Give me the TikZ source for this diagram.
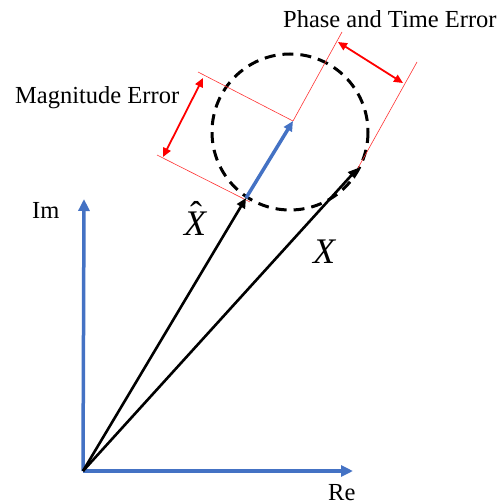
\documentclass[tikz,border=0pt]{standalone}
\usepackage{fontspec}
\setmainfont{Liberation Serif}
\usetikzlibrary{arrows.meta}
\definecolor{axisblue}{HTML}{4472C4}
\tikzset{
  axis/.style={draw=axisblue, line width=3.5pt, -{Triangle[length=12pt,width=11pt]}},
  vec/.style={draw=black, line width=2.6pt, -{Triangle[length=10pt,width=9pt]}},
  errvec/.style={draw=axisblue, line width=3.5pt, -{Triangle[length=10pt,width=9pt]}},
  guide/.style={draw=red!80, line width=0.6pt},
  dimarrow/.style={draw=red, line width=1.8pt, {Triangle[length=9pt,width=8pt]}-{Triangle[length=9pt,width=8pt]}},
  lbl/.style={font=\fontsize{24.5}{28}\selectfont, inner sep=0pt, anchor=base west},
  vlbl/.style={font=\fontsize{36}{40}\selectfont\itshape, inner sep=0pt, anchor=base west}
}
\begin{document}
\begin{tikzpicture}[x=1pt,y=-1pt]
\useasboundingbox (0,0) rectangle (497,503);
% key points
\coordinate (O) at (83,471);
\coordinate (ImEnd) at (84,199);
\coordinate (ReEnd) at (353,471);
\coordinate (Xh) at (246,198);
\coordinate (Bt) at (293,121);
\coordinate (Xt) at (358,168);
\coordinate (C) at (290,132);
% guide line ends
\coordinate (Ma) at (198,72);
\coordinate (Mb) at (157,155);
\coordinate (Mb0) at (250,202);
\coordinate (Pa) at (342,32);
\coordinate (Pb) at (417,62);
% dimension arrow ends
\coordinate (MA1) at (203,78);
\coordinate (MA2) at (163,157);
\coordinate (PA1) at (338,42);
\coordinate (PA2) at (403,83);
% dashed circle
\draw[black, line width=3pt, dash pattern=on 11pt off 7pt] (C) circle[radius=78];
% guide lines
\draw[guide] (Bt) -- (Ma);
\draw[guide] (Mb0) -- (Mb);
\draw[guide] (Bt) -- (Pa);
\draw[guide] (Xt) -- (Pb);
% dimension arrows
\draw[dimarrow] (MA1) -- (MA2);
\draw[dimarrow] (PA1) -- (PA2);
% axes
\draw[axis] (O) -- (ImEnd);
\draw[axis] (O) -- (ReEnd);
% vectors
\draw[vec] (O) -- (Xh);
\draw[vec] (O) -- (Xt);
\draw[errvec] (Xh) -- (Bt);
% labels
\node[lbl] (mag) at (15,103) {Magnitude Error};
\node[lbl] (pha) at (283,28) {Phase and Time Error};
\node[lbl] (im) at (32,218) {Im};
\node[lbl] (re) at (328,500) {Re};
\node[vlbl] (xhl) at (184,235) {\rlap{\kern6pt\raisebox{9pt}{\upshape\symbol{"02C6}}}X};
\node[vlbl] (xl) at (313,263) {X};
\end{tikzpicture}
\end{document}
